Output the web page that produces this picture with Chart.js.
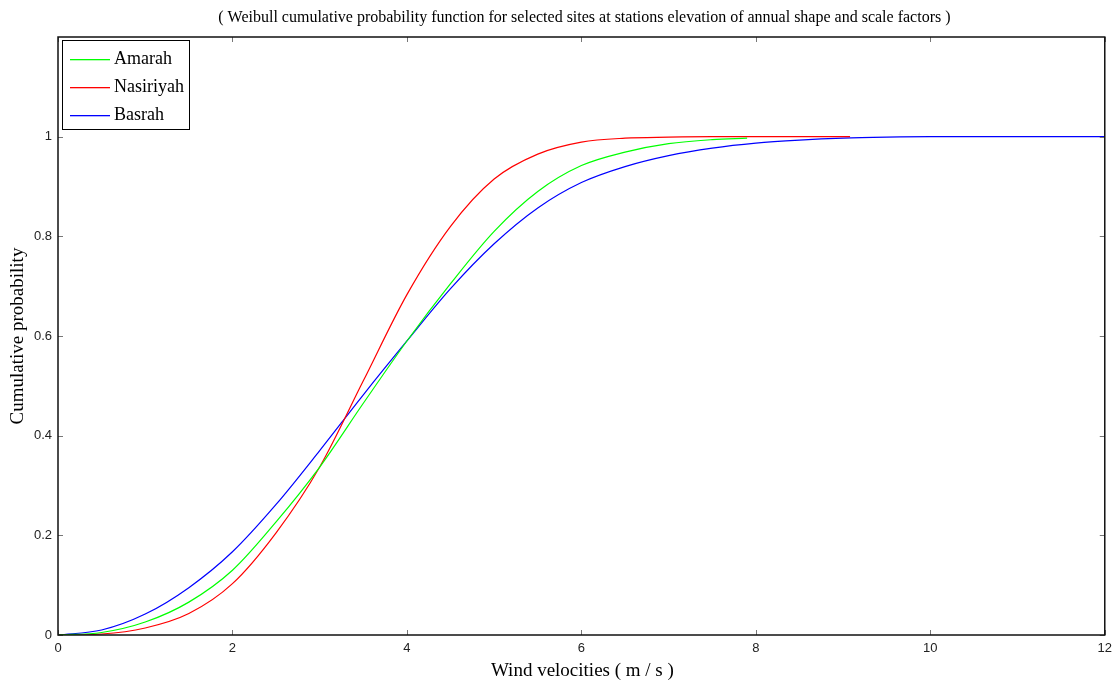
<!DOCTYPE html>
<html>
<head>
<meta charset="utf-8">
<script src="https://cdn.jsdelivr.net/npm/chart.js@4/dist/chart.umd.min.js"></script>
<style>
html,body{margin:0;padding:0;background:#fff;}
#wrap{width:1118px;height:686px;position:relative;}
</style>
</head>
<body>
<div id="wrap"><canvas id="c" width="1118" height="686"></canvas></div>
<script>
const titleText = "( Weibull cumulative probability function for selected sites at stations elevation of annual shape and scale factors )";
const xTitle = "Wind velocities ( m / s )";
const yTitle = "Cumulative probability";
const seriesNames = ["Amarah", "Nasiriyah", "Basrah"];
const seriesColors = ["#00ff00", "#ff0000", "#0000ff"];

const xTicks = [0, 2, 4, 6, 8, 10, 12];
const yTicks = [0, 0.2, 0.4, 0.6, 0.8, 1];

const amarahX = [0, 0.5, 1, 1.5, 2, 2.5, 3, 3.5, 4, 4.5, 5, 5.5, 6, 6.5, 7, 7.5, 7.9];
const amarahY = [0, 0.005, 0.026, 0.066, 0.13, 0.227, 0.337, 0.465, 0.59, 0.705, 0.81, 0.89, 0.942, 0.969, 0.986, 0.994, 0.997];

const nasiriyahX = [0, 0.5, 1, 1.5, 2, 2.5, 3, 3.5, 4, 4.5, 5, 5.5, 6, 6.5, 7, 7.5, 8, 8.5, 9.08];
const nasiriyahY = [0, 0.002, 0.014, 0.043, 0.103, 0.205, 0.337, 0.51, 0.683, 0.82, 0.915, 0.965, 0.989, 0.997, 0.999, 1, 1, 1, 1];

const basrahX = [0, 0.5, 1, 1.5, 2, 2.5, 3, 3.5, 4, 4.5, 5, 5.5, 6, 6.5, 7, 7.5, 8, 8.5, 9, 9.5, 10, 11, 12];
const basrahY = [0, 0.01, 0.042, 0.095, 0.167, 0.262, 0.37, 0.482, 0.59, 0.695, 0.785, 0.857, 0.908, 0.94, 0.962, 0.977, 0.987, 0.993, 0.997, 0.999, 1, 1, 1];

function pts(xs, ys){ return xs.map((x,i)=>({x:x, y:ys[i]})); }
const seriesData = [pts(amarahX, amarahY), pts(nasiriyahX, nasiriyahY), pts(basrahX, basrahY)];

const boxPlugin = {
  id: 'boxPlugin',
  afterDraw(chart){
    const ctx = chart.ctx;
    const a = chart.chartArea;
    const xs = chart.scales.x, ys = chart.scales.y;
    ctx.save();
    ctx.strokeStyle = '#777';
    ctx.lineWidth = 1;
    const tl = 5;
    xTicks.forEach(v=>{
      const px = Math.round(xs.getPixelForValue(v)) + 0.5;
      ctx.beginPath();
      ctx.moveTo(px, a.bottom); ctx.lineTo(px, a.bottom - tl);
      ctx.moveTo(px, a.top); ctx.lineTo(px, a.top + tl);
      ctx.stroke();
    });
    yTicks.forEach(v=>{
      const py = Math.round(ys.getPixelForValue(v)) + 0.5;
      ctx.beginPath();
      ctx.moveTo(a.left, py); ctx.lineTo(a.left + tl, py);
      ctx.moveTo(a.right, py); ctx.lineTo(a.right - tl, py);
      ctx.stroke();
    });
    ctx.strokeStyle = '#111';
    ctx.lineWidth = 1.5;
    ctx.strokeRect(a.left, a.top, a.right - a.left, a.bottom - a.top);
    ctx.fillStyle = '#000';
    ctx.font = '16px "Liberation Serif", "Times New Roman", serif';
    ctx.textAlign = 'center';
    ctx.textBaseline = 'middle';
    ctx.fillText(titleText, (a.left + a.right)/2 + 3, 18);
    ctx.font = '19px "Liberation Serif", "Times New Roman", serif';
    ctx.fillText(xTitle, (a.left + a.right)/2 + 1, 671);
    ctx.save();
    ctx.translate(18, (a.top + a.bottom)/2);
    ctx.rotate(-Math.PI/2);
    ctx.fillText(yTitle, 0, 0);
    ctx.restore();
    const lx = a.left + 4, ly = a.top + 3, lw = 127, lh = 89;
    ctx.fillStyle = '#ffffff';
    ctx.fillRect(lx, ly, lw, lh);
    ctx.strokeStyle = '#000';
    ctx.lineWidth = 1;
    ctx.strokeRect(lx + 0.5, ly + 0.5, lw, lh);
    ctx.font = '18px "Liberation Serif", "Times New Roman", serif';
    ctx.textAlign = 'left';
    for (let i = 0; i < seriesNames.length; i++) {
      const yy = Math.round(ly + 19 + i * 28);
      ctx.fillStyle = seriesColors[i];
      ctx.fillRect(lx + 8, yy, 40, 1.3);
      ctx.fillStyle = '#000000';
      ctx.fillText(seriesNames[i], lx + 52, yy);
    }
    ctx.restore();
  }
};

new Chart(document.getElementById('c'), {
  type: 'line',
  data: {
    datasets: seriesNames.map((n, i)=>({
      label: n,
      data: seriesData[i],
      borderColor: seriesColors[i],
      backgroundColor: seriesColors[i],
      borderWidth: 1.2,
      pointRadius: 0,
      fill: false,
      cubicInterpolationMode: 'monotone'
    }))
  },
  options: {
    responsive: false,
    animation: false,
    layout: { padding: { top: 37, right: 13, left: 0, bottom: 0 } },
    plugins: { legend: { display: false }, title: { display: false }, tooltip: { enabled: false } },
    scales: {
      x: {
        type: 'linear', min: 0, max: 12,
        afterBuildTicks(s){ s.ticks = xTicks.map(v=>({value:v})); },
        afterFit(s){ s.height = 51; },
        grid: { display: false, drawTicks: false },
        border: { display: false },
        ticks: { padding: 6, color: '#222', font: { family: '"Liberation Sans", Arial, sans-serif', size: 13 }, maxRotation: 0 }
      },
      y: {
        type: 'linear', min: 0, max: 1.2,
        afterBuildTicks(s){ s.ticks = yTicks.map(v=>({value:v})); },
        afterFit(s){ s.width = 58; },
        grid: { display: false, drawTicks: false },
        border: { display: false },
        ticks: { padding: 6, color: '#222', font: { family: '"Liberation Sans", Arial, sans-serif', size: 13 },
          callback: v => String(Math.round(v*10)/10) }
      }
    }
  },
  plugins: [boxPlugin]
});
</script>
</body>
</html>
